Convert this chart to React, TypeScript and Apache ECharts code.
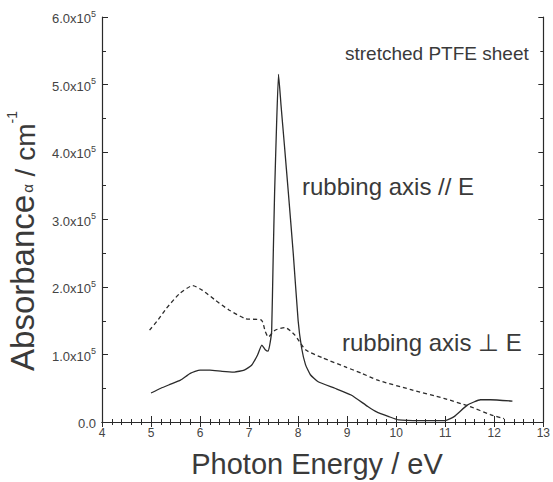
import React, { useEffect, useRef } from "react";
import * as echarts from "echarts";

// Photon energy (eV) / absorbance (cm^-1), rubbing axis // E (solid)
const parallelEnergy = [
  5.0, 5.2, 5.4, 5.6, 5.8, 6.0, 6.2, 6.45, 6.7, 6.9, 7.05, 7.17, 7.26, 7.33, 7.39,
  7.43, 7.46, 7.49, 7.52, 7.56, 7.6, 7.65, 7.72, 7.8, 7.9, 8.0, 8.07, 8.15, 8.25, 8.4,
  8.75, 9.08, 9.42, 9.6, 9.85, 10.05, 10.5, 11.0, 11.18, 11.45, 11.72, 11.92, 12.37,
];
const parallelAbs = [
  43000, 50000, 56000, 62000, 72000, 77000, 77000, 75000, 74000, 77000, 84000, 99000,
  114000, 107000, 105000, 118000, 135000, 240000, 340000, 440000, 515000, 470000,
  410000, 340000, 250000, 150000, 110000, 85000, 70000, 60000, 50000, 40000, 23000,
  15000, 8000, 3000, 2000, 2000, 8000, 25000, 33000, 33000, 31000,
];

// rubbing axis ⊥ E (dashed)
const perpEnergy = [
  4.97, 5.15, 5.31, 5.58, 5.85, 6.05, 6.32, 6.59, 6.93, 7.25, 7.33, 7.39, 7.53, 7.73,
  7.93, 8.15, 8.5, 8.95, 9.3, 9.62, 10.3, 10.97, 11.5, 11.92, 12.2,
];
const perpAbs = [
  136000, 152000, 168000, 190000, 202000, 195000, 180000, 166000, 153000, 151000,
  134000, 126000, 136000, 140000, 129000, 107000, 95000, 82000, 72000, 62000, 48000,
  35000, 23000, 11000, 5000,
];

const yTickMantissa = ["0.0", "1.0", "2.0", "3.0", "4.0", "5.0", "6.0"];

const xTitle = "Photon Energy / eV";
const annotations = ["stretched PTFE sheet", "rubbing axis // E", "rubbing axis \u22a5 E"];

export default function App() {
  const ref = useRef<HTMLDivElement>(null);

  useEffect(() => {
    if (!ref.current) return;
    const chart = echarts.init(ref.current, null, { renderer: "svg" });
    const font = "'Liberation Sans', Arial, sans-serif";
    const axisColor = "#2a2a2a";
    const textColor = "#3a3a3a";
    const commonAxis = {
      axisLine: { show: true, lineStyle: { color: axisColor, width: 1.2 } },
      splitLine: { show: false },
    };
    const solidData = parallelEnergy.map((x, i) => [x, parallelAbs[i]]);
    const dashData = perpEnergy.map((x, i) => [x, perpAbs[i]]);

    chart.setOption({
      animation: false,
      backgroundColor: "#ffffff",
      textStyle: { fontFamily: font },
      grid: { left: 102, right: 8, top: 17, bottom: 60, containLabel: false },
      xAxis: [
        {
          type: "value",
          min: 4,
          max: 13,
          interval: 1,
          position: "bottom",
          ...commonAxis,
          axisTick: { show: true, inside: true, length: 6, lineStyle: { color: axisColor } },
          minorTick: { show: true, splitNumber: 5, length: 3, lineStyle: { color: axisColor } },
          axisLabel: { color: "#444", fontSize: 12, margin: 5, fontFamily: font },
        },
        {
          type: "value",
          min: 4,
          max: 13,
          interval: 1,
          position: "top",
          ...commonAxis,
          axisTick: { show: true, inside: true, length: 5, lineStyle: { color: axisColor } },
          minorTick: { show: true, splitNumber: 5, length: 3, lineStyle: { color: axisColor } },
          axisLabel: { show: false },
        },
      ],
      yAxis: [
        {
          type: "value",
          min: 0,
          max: 600000,
          interval: 100000,
          position: "left",
          ...commonAxis,
          axisTick: { show: true, inside: true, length: 6, lineStyle: { color: axisColor } },
          minorTick: { show: true, splitNumber: 2, length: 4, lineStyle: { color: axisColor } },
          axisLabel: {
            margin: 6,
            color: "#444",
            fontFamily: font,
            formatter: (v: number) => {
              const idx = Math.round(v / 100000);
              const m = yTickMantissa[idx];
              if (idx === 0) return "{a|" + m + "}";
              return "{a|" + m + "x10}{s|5}";
            },
            rich: {
              a: { fontSize: 13, color: "#444", fontFamily: font, verticalAlign: "bottom", lineHeight: 16 },
              s: { fontSize: 9, color: "#444", fontFamily: font, verticalAlign: "top", lineHeight: 16, padding: [0, 0, 6, 0] },
            },
          },
        },
        {
          type: "value",
          min: 0,
          max: 600000,
          interval: 100000,
          position: "right",
          ...commonAxis,
          axisTick: { show: true, inside: true, length: 5, lineStyle: { color: axisColor } },
          minorTick: { show: true, splitNumber: 2, length: 3, lineStyle: { color: axisColor } },
          axisLabel: { show: false },
        },
      ],
      series: [
        {
          type: "line",
          data: solidData,
          showSymbol: false,
          smooth: 0.15,
          lineStyle: { color: "#2b2b2b", width: 1.3 },
          z: 3,
        },
        {
          type: "line",
          data: dashData,
          showSymbol: false,
          smooth: 0.2,
          lineStyle: { color: "#2b2b2b", width: 1.3, type: [4, 3] },
          z: 2,
        },
      ],
      graphic: [
        {
          type: "text",
          left: 345,
          top: 44,
          style: { text: annotations[0], fontSize: 19, fill: textColor, fontFamily: font },
        },
        {
          type: "text",
          left: 302,
          top: 174,
          style: { text: annotations[1], fontSize: 24, fill: textColor, fontFamily: font },
        },
        {
          type: "text",
          left: 342,
          top: 330,
          style: { text: annotations[2], fontSize: 24, fill: textColor, fontFamily: font },
        },
        {
          type: "text",
          x: 317,
          y: 464,
          style: {
            text: xTitle,
            fontSize: 29,
            fill: textColor,
            fontFamily: font,
            align: "center",
            verticalAlign: "middle",
          },
        },
        {
          type: "text",
          x: 22,
          y: 241,
          rotation: Math.PI / 2,
          style: {
            text: "{b|Absorbance}{g|\u03b1}{c| / cm}{s|-1}",
            align: "center",
            verticalAlign: "middle",
            fill: textColor,
            fontFamily: font,
            rich: {
              b: { fontSize: 33, fill: textColor, fontFamily: font, verticalAlign: "bottom", lineHeight: 34 },
              g: { fontSize: 15, fill: textColor, fontFamily: font, verticalAlign: "bottom", lineHeight: 34, padding: [0, 0, 4, 2] },
              c: { fontSize: 28, fill: textColor, fontFamily: font, verticalAlign: "bottom", lineHeight: 34 },
              s: { fontSize: 14, fill: textColor, fontFamily: font, verticalAlign: "top", lineHeight: 34 },
            },
          },
        },
      ],
    });
    return () => chart.dispose();
  }, []);

  return (
    <div
      ref={ref}
      style={{ position: "fixed", left: 0, top: 0, width: 553, height: 482, background: "#fff" }}
    />
  );
}
